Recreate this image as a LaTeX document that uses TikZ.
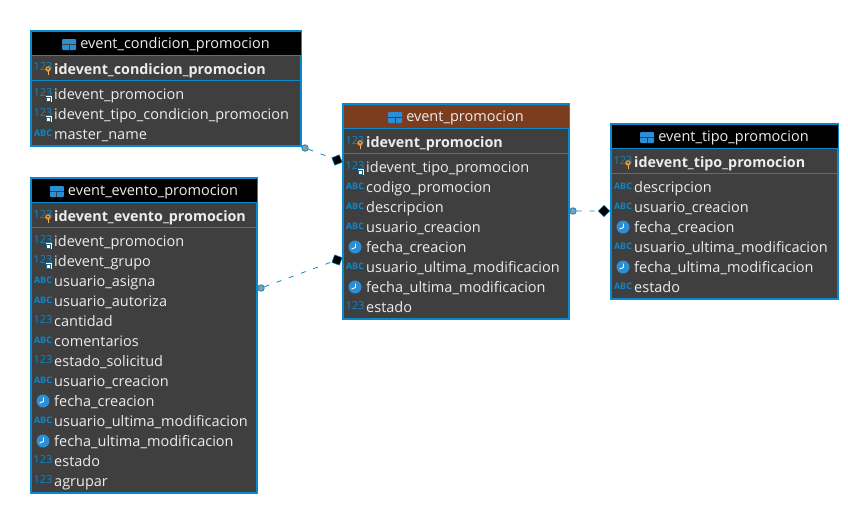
\documentclass[tikz,border=0pt]{standalone}
\usepackage{fontspec}
\setmainfont{Open Sans}
\definecolor{paneldark}{HTML}{3F3F3F}
\definecolor{edgeblue}{HTML}{0A88CC}
\definecolor{iconblue}{HTML}{2A8FD6}
\definecolor{brownbar}{HTML}{7C3D1E}
\definecolor{rowtext}{HTML}{EDEDED}
\definecolor{keygold}{HTML}{E8952B}
\definecolor{dotgray}{HTML}{8C9BA6}
\tikzset{
  tablebody/.style={draw=edgeblue,line width=2pt,fill=paneldark,anchor=north west,inner sep=0pt,outer sep=0pt},
  headbar/.style={fill=#1,anchor=north west,inner sep=0pt,outer sep=0pt},
  tabletitle/.style={text=rowtext,font=\fontsize{14.5}{16}\selectfont,inner sep=0pt},
  colname/.style={text=rowtext,font=\fontsize{14.5}{16}\selectfont,anchor=base west,inner sep=0pt},
  keyname/.style={colname,font=\fontsize{14.3}{16}\selectfont\bfseries},
  numtag/.style={text=edgeblue,font=\fontsize{11}{12}\selectfont,inner sep=0pt},
  abctag/.style={text=edgeblue,font=\fontsize{9}{10}\selectfont\bfseries,inner sep=0pt},
  reldot/.style={circle,draw=edgeblue,fill=dotgray,line width=.8pt,minimum size=6.5pt,inner sep=0pt},
  relend/.style={rectangle,draw=edgeblue,fill=black,line width=.5pt,minimum size=8pt,inner sep=0pt},
  relline/.style={edgeblue,line width=.8pt,dash pattern=on 5pt off 8pt},
}
% table frame: name, x, y, width, height, bar colour, title
\newcommand{\tableframe}[7]{
  \node[tablebody,minimum width=#4pt,minimum height=#5pt] (#1) at (#2,#3) {};
  \node[headbar=#6,minimum width=#4pt-1pt,minimum height=24pt,xshift=.5pt,yshift=-.5pt] (#1bar) at (#2,#3) {};
  \draw[edgeblue,line width=1pt] (#1bar.south west) -- (#1bar.south east);
  \node[tabletitle,xshift=9pt,yshift=-1.5pt] (#1title) at (#1bar.center) {#7};
  \fill[iconblue,rounded corners=1pt] ([xshift=-18pt,yshift=6pt]#1title.west) rectangle ([xshift=-4pt,yshift=-5pt]#1title.west);
  \draw[paneldark,line width=.7pt] ([xshift=-18pt,yshift=1pt]#1title.west) -- ([xshift=-4pt,yshift=1pt]#1title.west);
  \draw[paneldark,line width=.7pt] ([xshift=-11pt,yshift=1pt]#1title.west) -- ([xshift=-11pt,yshift=-5pt]#1title.west);
  \draw[edgeblue,line width=1pt] (#1.north west) ++(0,-49.5pt) -- ++(#4pt,0);
}
% row icons, all at (x,y) = left edge of table, centre of row
\newcommand{\tagnum}[2]{\node[numtag] at (#1+12,#2-1.5) {123};}
\newcommand{\tagabc}[2]{\node[abctag] at (#1+12,#2-1) {ABC};}
\newcommand{\tagclock}[2]{
  \fill[iconblue] (#1+12,#2) circle (6.5);
  \draw[white,line width=.9pt] (#1+12.5,#2-3.5) -- (#1+12.5,#2+.5) -- (#1+8.5,#2+2);
}
\newcommand{\tagfk}[2]{
  \tagnum{#1}{#2}
  \fill[white] (#1+14.5,#2+2) rectangle (#1+20.5,#2+8);
  \draw[paneldark!60!edgeblue,line width=.7pt] (#1+15.5,#2+3) rectangle (#1+19.5,#2+7);
}
\newcommand{\tagkey}[2]{
  \tagnum{#1}{#2}
  \fill[keygold] (#1+17,#2+1) circle (2.8);
  \fill[paneldark] (#1+17,#2+.5) circle (1);
  \draw[keygold!70!white,line width=1pt] (#1+17,#2+3) -- (#1+17,#2+7);
}
\begin{document}
\begin{tikzpicture}[x=1pt,y=-1pt]
\useasboundingbox (0,0) rectangle (848,504);

\tableframe{condicion}{31}{31}{270}{115}{black}{event\_condicion\_promocion}
\tableframe{evento}{31}{178}{226}{315}{black}{event\_evento\_promocion}
\tableframe{promo}{343}{104}{226}{215}{brownbar}{event\_promocion}
\tableframe{tipo}{611}{124}{227}{175}{black}{event\_tipo\_promocion}

\tagkey{31}{68}
\node[keyname] (condicionkey) at (54,74) {idevent\_condicion\_promocion};
\foreach \kind/\txt [count=\i from 0] in {fk/idevent\_promocion,fk/idevent\_tipo\_condicion\_promocion,abc/master\_name}
  {\csname tag\kind\endcsname{31}{94+20*\i}
   \node[colname] (condicion\i) at (54,99+20*\i) {\txt};}

\tagkey{31}{216}
\node[keyname] (eventokey) at (54,221) {idevent\_evento\_promocion};
\foreach \kind/\txt [count=\i from 0] in {fk/idevent\_promocion,fk/idevent\_grupo,abc/usuario\_asigna,abc/usuario\_autoriza,num/cantidad,abc/comentarios,num/estado\_solicitud,abc/usuario\_creacion,clock/fecha\_creacion,abc/usuario\_ultima\_modificacion,clock/fecha\_ultima\_modificacion,num/estado,num/agrupar}
  {\csname tag\kind\endcsname{31}{241+20*\i}
   \node[colname] (evento\i) at (54,246+20*\i) {\txt};}

\tagkey{343}{142}
\node[keyname] (promokey) at (366,147) {idevent\_promocion};
\foreach \kind/\txt [count=\i from 0] in {fk/idevent\_tipo\_promocion,abc/codigo\_promocion,abc/descripcion,abc/usuario\_creacion,clock/fecha\_creacion,abc/usuario\_ultima\_modificacion,clock/fecha\_ultima\_modificacion,num/estado}
  {\csname tag\kind\endcsname{343}{167+20*\i}
   \node[colname] (promo\i) at (366,172+20*\i) {\txt};}

\tagkey{611}{162}
\node[keyname] (tipokey) at (634,167) {idevent\_tipo\_promocion};
\foreach \kind/\txt [count=\i from 0] in {abc/descripcion,abc/usuario\_creacion,clock/fecha\_creacion,abc/usuario\_ultima\_modificacion,clock/fecha\_ultima\_modificacion,abc/estado}
  {\csname tag\kind\endcsname{611}{187+20*\i}
   \node[colname] (tipo\i) at (634,192+20*\i) {\txt};}

\node[reldot] (dota) at (305,148) {};
\node[relend,rotate=22] (enda) at (337,160) {};
\draw[relline] (dota) -- (enda);

\node[reldot] (dotb) at (261,288) {};
\node[relend,rotate=-20] (endb) at (337,260) {};
\draw[relline] (dotb) -- (endb);

\node[reldot] (dotc) at (573,211) {};
\node[relend,rotate=45] (endc) at (604,211) {};
\draw[relline] (dotc) -- (endc);
\end{tikzpicture}
\end{document}
